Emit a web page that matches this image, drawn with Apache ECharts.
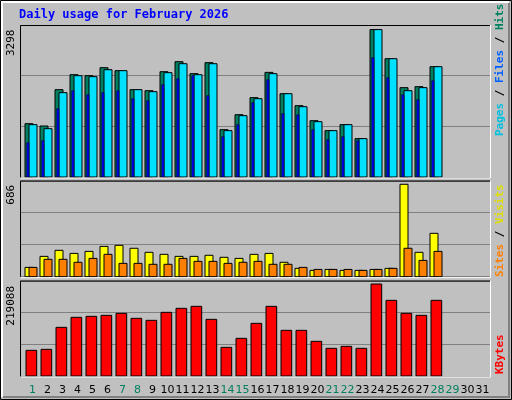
<!DOCTYPE html><html><head><meta charset="utf-8">
<script src="https://cdn.jsdelivr.net/npm/echarts@6/dist/echarts.min.js"></script>
<style>html,body{margin:0;padding:0;background:#c0c0c0}#c{width:512px;height:400px}</style></head><body><div id="c"></div>
<script>
const days=[];for(let i=1;i<=31;i++)days.push(String(i));
const greenDays=[1,7,8,14,15,21,22,28,29];
const hits=[1193,1141,1954,2289,2267,2446,2379,1954,1931,2356,2580,2312,2558,1059,1394,1775,2341,1864,1596,1260,1037,1171,858,3298,2647,1999,2021,2468];
const files=[1171,1081,1887,2267,2245,2401,2379,1954,1909,2334,2535,2289,2535,1037,1372,1752,2312,1864,1573,1238,1037,1171,858,3298,2647,1931,1999,2468];
const pages=[768,813,1529,1931,1842,1887,1931,1752,1708,2066,2200,2267,1820,902,1171,1663,2177,1417,1394,1059,835,902,813,2670,2222,1842,1730,2155];
const visits=[69,151,196,173,188,225,233,211,181,166,151,151,159,144,136,166,173,107,62,47,54,47,47,54,62,686,181,322];
const sites=[69,129,129,107,136,166,99,99,92,92,136,114,114,99,107,114,92,92,69,54,54,54,47,54,62,211,121,188];
const kbytes=[61123,63504,115895,139709,142090,144472,149234,137327,132565,151616,161141,165904,134946,68267,89699,125420,165904,108751,108751,82555,65885,70648,65885,219088,180193,149234,144472,180193];
const maxLabels=['3298','686','219088'];

const chart=echarts.init(document.getElementById('c'));
const panels=[{top:25,h:152,max:3401},{top:180.7,h:96,max:712.7},{top:280.7,h:95.3,max:226950}];
function barSeries(data,grid,x0,x1,color,z,lw){
  return {type:'custom',xAxisIndex:grid,yAxisIndex:grid,z:z,
    data:data.map((v,i)=>[i,v]),
    renderItem:(p,api)=>{const i=api.value(0),v=api.value(1);
      const a=api.coord([i+x0/15,v]),b=api.coord([i+x1/15,0]);
      return {type:'rect',shape:{x:a[0],y:a[1],width:b[0]-a[0],height:b[1]-a[1]},
        style:{fill:color,stroke:lw?'#000':null,lineWidth:lw}};}};
}
const grids=panels.map(p=>({left:20,width:470,top:p.top,height:p.h}));
grids.push({left:25,width:465,top:280.7,height:95.3});
const xAxes=panels.map((p,k)=>({type:'value',gridIndex:k,min:-1/3,max:31,show:false}));
xAxes.push({type:'category',gridIndex:3,data:days,axisLine:{show:false},axisTick:{show:false},
  axisLabel:{margin:9,fontFamily:'DejaVu Sans',fontSize:11,interval:0,
    color:(v)=>greenDays.includes(+v)?'#008060':'#000'}});
const yAxes=panels.map((p,k)=>({type:'value',gridIndex:k,min:0,max:p.max,interval:p.max/3,
  axisLine:{show:false},axisTick:{show:false},axisLabel:{show:false},
  splitLine:{lineStyle:{color:'#808080',width:1}}}));
yAxes.push({type:'value',gridIndex:3,show:false});
const graphic=[
 {type:'rect',shape:{x:0.5,y:0.5,width:511,height:399},style:{fill:null,stroke:'#000',lineWidth:1}},
 {type:'polyline',shape:{points:[[2,397],[2,2],[509,2]]},style:{stroke:'#fff',lineWidth:2,fill:null}},
 {type:'polyline',shape:{points:[[3,397],[509,397],[509,3]]},style:{stroke:'#808080',lineWidth:2,fill:null}},
 {type:'text',left:19,top:9,style:{text:'Daily usage for February 2026',fill:'#0000ff',font:'bold 12px "DejaVu Sans Mono"'}}
];
panels.forEach((p,k)=>{
  const y0=p.top,y1=p.top+p.h;
  graphic.push({type:'polyline',z:10,shape:{points:[[20.5,y1],[20.5,y0+0.5],[490,y0+0.5]]},style:{stroke:'#000',lineWidth:1,fill:null}});
  graphic.push({type:'polyline',z:10,shape:{points:[[21,y1+1],[490.5,y1+1],[490.5,y0]]},style:{stroke:'#fff',lineWidth:1,fill:null}});
  graphic.push({type:'text',x:6,y:y0+3+maxLabels[k].length*7,rotation:Math.PI/2,
    style:{text:maxLabels[k],fill:'#000',font:'11px "DejaVu Sans Mono"'}});
});
function rlabel(y,parts){graphic.push({type:'text',x:495,y:y,rotation:Math.PI/2,
  style:{rich:Object.fromEntries(parts.map((p,i)=>['r'+i,{fill:p[1],font:'bold 11px "DejaVu Sans Mono"'}])),
    text:parts.map((p,i)=>'{r'+i+'|'+p[0]+'}').join(''),fill:'#000'}});}
rlabel(136,[['Pages','#00c0e0'],[' / ','#000'],['Files','#0060ff'],[' / ','#000'],['Hits','#008060']]);
rlabel(277,[['Sites','#ff8000'],[' / ','#000'],['Visits','#e0e000']]);
rlabel(374,[['KBytes','#ff0000']]);
chart.setOption({animation:false,backgroundColor:'#c0c0c0',grid:grids,xAxis:xAxes,yAxis:yAxes,graphic:graphic,
 series:[
  barSeries(hits,0,0,8,'#008060',3,1),
  barSeries(files,0,4,12,'#00e0ff',4,1),
  barSeries(pages,0,1.7,4,'#0000ff',5,0.5),
  barSeries(visits,1,0,8,'#ffff00',3,1),
  barSeries(sites,1,4,12,'#ff8000',4,1),
  barSeries(kbytes,2,1,11.7,'#ff0000',3,1)
 ]});
</script></body></html>
